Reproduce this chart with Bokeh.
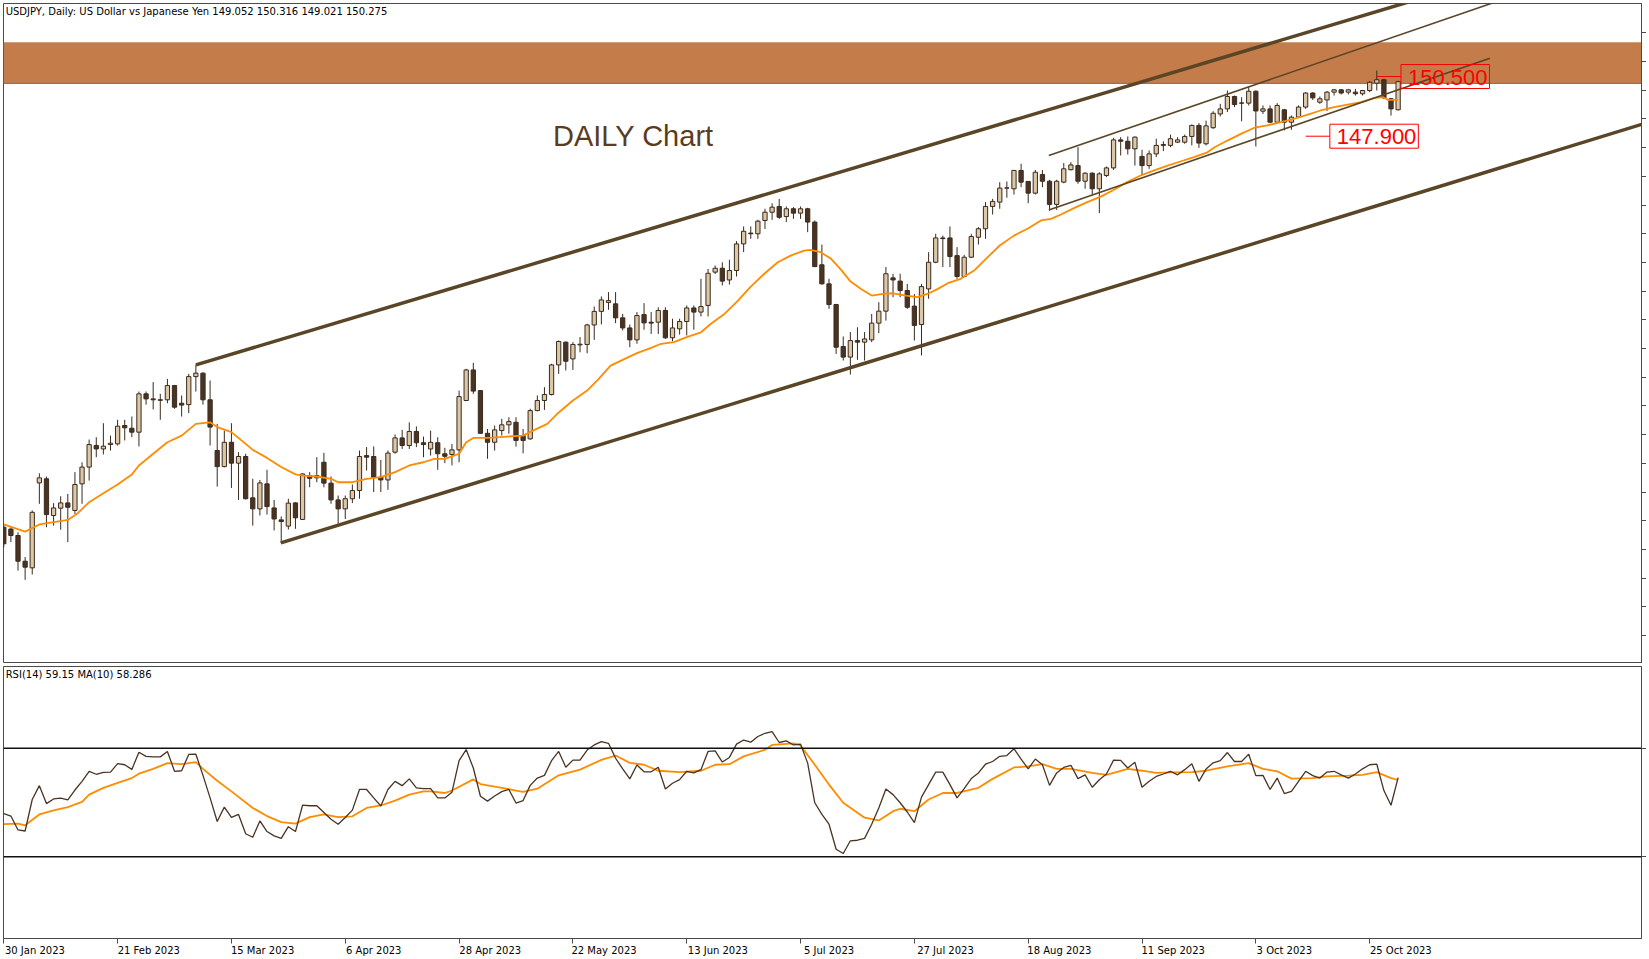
from bokeh.plotting import figure
from bokeh.models import Range1d, FixedTicker, BoxAnnotation, Span, Label, ColumnDataSource, LinearAxis
from bokeh.layouts import column
from bokeh.embed import file_html
from bokeh.resources import INLINE

# ---------------- data ----------------
opens = [130.87,130.79,130.51,129.39,129.10,132.80,132.98,131.38,131.70,131.93,
         131.60,132.76,133.49,134.43,134.28,134.47,134.50,135.30,135.18,135.01,
         136.68,136.46,136.42,136.42,137.04,136.27,136.21,137.43,137.58,136.42,
         134.21,133.51,134.57,133.66,133.95,132.15,131.67,132.76,131.71,131.19,
         130.92,131.93,131.21,133.12,133.02,133.70,132.79,132.06,131.67,132.11,
         132.47,133.99,133.95,133.05,132.93,134.14,134.76,134.43,135.04,134.55,
         134.28,134.55,134.07,134.04,134.24,136.39,137.72,136.82,134.96,134.57,
         135.08,135.33,135.44,134.86,134.72,135.95,136.39,136.65,137.94,138.93,
         138.20,138.81,138.83,139.68,140.27,140.66,140.60,139.99,139.55,139.03,
         140.13,139.80,139.80,140.31,139.12,139.51,139.83,140.42,140.24,140.53,
         141.98,142.15,141.64,142.05,143.21,143.68,143.65,144.23,144.59,144.84,
         144.40,144.74,144.55,144.74,144.16,142.30,141.47,140.57,138.74,138.28,
         139.00,138.93,139.03,139.76,140.28,141.73,141.59,141.18,140.50,139.70,
         141.25,142.41,143.47,143.47,142.70,141.79,142.63,143.50,143.87,144.84,
         145.03,145.64,145.61,146.41,145.93,145.42,146.23,145.94,144.93,145.90,
         146.44,146.62,145.94,146.29,145.61,146.19,146.52,147.74,147.68,147.35,
         147.02,146.62,147.13,147.50,147.50,147.64,147.64,147.89,148.37,147.57,
         148.27,148.87,149.09,149.63,149.35,149.34,149.86,148.99,149.09,148.51,
         149.05,148.51,148.73,149.17,149.78,149.38,149.48,149.82,149.92,149.82,
         149.82,149.75,149.89,150.21,150.36,149.53,149.052]
highs = [131.00,130.87,130.65,129.57,131.60,133.22,133.08,131.92,132.22,132.32,
         133.27,133.70,134.69,134.79,135.40,134.86,135.55,135.55,135.69,136.78,
         136.78,137.19,136.68,137.33,137.07,136.61,137.55,137.94,137.62,137.26,
         135.37,135.08,135.40,134.14,134.07,132.98,132.93,133.37,132.06,131.34,
         132.11,131.96,133.22,133.27,133.92,134.11,133.08,132.25,132.25,132.73,
         134.21,134.36,134.39,133.80,134.21,134.91,135.11,135.44,135.26,134.82,
         135.08,134.79,134.33,134.50,136.82,137.77,138.03,136.85,135.15,135.30,
         135.59,135.66,135.66,135.15,136.03,136.61,136.97,137.99,139.00,138.96,
         138.93,139.15,139.73,140.48,140.92,141.11,141.11,140.16,139.70,140.24,
         140.63,140.24,140.45,140.45,139.95,139.95,140.53,140.53,141.69,142.12,
         142.27,142.41,142.52,143.33,143.97,143.97,144.26,144.74,144.98,145.17,
         144.84,144.81,144.84,144.78,144.23,143.18,141.69,140.60,139.18,139.37,
         139.58,139.37,140.16,140.67,142.20,141.91,141.91,141.47,141.03,141.47,
         142.85,143.65,143.57,143.97,143.07,142.73,143.65,143.94,145.03,145.17,
         145.90,145.93,146.43,146.70,145.94,146.43,146.43,146.00,146.00,146.73,
         146.77,147.42,146.33,146.33,146.33,146.58,147.83,147.86,147.89,147.89,
         147.31,147.28,147.79,147.68,147.97,147.86,147.97,148.41,148.47,148.58,
         148.99,149.31,149.89,149.67,149.60,150.04,149.89,149.24,149.24,149.34,
         149.09,148.80,149.24,149.82,149.82,149.63,149.86,149.96,149.96,149.96,
         149.96,149.92,150.30,150.76,150.40,149.57,150.316]
lows = [130.00,130.22,128.98,128.58,128.81,131.89,130.87,130.94,130.76,130.22,
        131.45,131.89,132.90,133.92,134.04,134.21,134.43,134.65,134.79,134.39,
        136.21,136.00,135.55,136.27,136.03,135.69,135.84,136.78,136.21,134.43,
        132.64,133.48,132.58,132.06,132.08,130.94,131.38,131.42,130.73,130.19,
        130.77,130.80,131.19,132.61,132.83,132.61,131.89,131.02,131.23,131.92,
        132.11,133.34,132.40,132.40,132.50,134.07,134.28,134.28,134.36,133.92,
        133.99,133.37,133.66,133.56,133.70,136.36,136.68,134.94,133.85,134.21,
        134.86,134.94,134.38,134.09,134.68,135.92,135.98,136.61,137.55,137.70,
        137.72,138.49,138.45,139.03,139.70,140.34,139.76,139.44,138.71,138.86,
        139.47,139.29,139.29,139.07,138.97,139.26,139.22,139.47,140.05,140.05,
        141.90,141.40,141.44,141.79,142.85,143.43,143.43,143.86,144.26,144.30,
        144.16,144.30,144.30,143.72,142.20,141.44,140.38,138.42,138.13,137.52,
        138.16,138.13,138.93,139.32,139.87,140.89,140.89,140.38,139.00,138.35,
        140.82,142.37,142.20,142.20,141.69,141.76,142.60,143.18,143.43,144.49,
        144.74,145.22,145.36,145.68,144.98,145.36,145.68,144.66,144.69,145.85,
        146.41,145.83,145.61,145.36,144.55,146.12,146.43,147.06,147.10,146.62,
        146.19,146.48,146.99,147.25,147.42,147.60,147.57,147.50,147.39,147.50,
        148.22,148.76,148.95,149.17,148.55,149.24,147.45,148.87,148.47,148.47,
        148.15,148.18,148.70,149.09,149.48,149.31,149.00,149.67,149.72,149.72,
        149.67,149.67,149.82,149.89,149.53,148.80,149.021]
closes = [130.15,130.51,129.39,129.13,131.52,133.02,131.42,131.71,131.93,131.74,
          132.73,133.49,134.47,134.28,134.40,134.53,135.27,135.20,135.01,136.68,
          136.46,136.42,136.40,137.04,136.10,136.19,137.43,137.58,136.42,135.23,
          133.51,134.57,133.66,133.95,132.11,131.67,132.80,131.77,131.23,131.12,
          131.92,131.28,133.19,133.00,133.12,132.79,132.06,131.67,132.11,132.47,
          133.95,133.92,133.05,132.93,134.10,134.76,134.43,135.04,134.55,134.47,
          134.57,134.07,133.96,134.24,136.56,137.72,136.80,134.96,134.57,135.11,
          135.33,135.47,134.65,134.65,135.95,136.39,136.65,137.94,138.96,138.10,
          138.83,138.84,139.68,140.27,140.77,140.74,139.99,139.55,139.03,140.09,
          139.77,139.76,140.31,139.12,139.55,139.83,140.42,140.24,140.48,141.93,
          142.15,141.59,142.05,143.21,143.76,143.65,144.20,144.59,144.81,144.37,
          144.74,144.55,144.74,144.16,142.22,141.47,140.57,138.71,138.28,139.00,
          138.93,139.07,139.76,140.28,141.91,141.64,141.18,140.45,139.66,141.35,
          142.41,143.47,143.44,142.66,141.79,142.63,143.53,143.87,144.84,145.06,
          145.64,145.65,146.41,145.90,145.42,146.33,145.94,144.93,145.94,146.48,
          146.65,145.94,146.29,145.61,146.26,146.52,147.74,147.68,147.35,147.86,
          146.62,147.13,147.50,147.54,147.79,147.74,147.89,148.37,147.60,148.35,
          148.90,149.09,149.63,149.28,149.34,149.86,149.00,149.09,148.51,149.24,
          148.51,148.73,149.17,149.78,149.57,149.53,149.82,149.92,149.78,149.92,
          149.75,149.89,150.25,150.36,149.57,149.09,150.275]

# moving average on price (vertices)
ma_bars = [0,3,5,7,9,10.4,12,14,16,18,19,21,23,25,27,29,30,32,34,35,37,39,41,42,44,46,47,49,
           51,53,55,57,59,60.5,62,64,65,66,68,70.8,73,74.6,76.4,77.8,80,82,83.5,85.3,87,89,91,
           92.4,94.2,96,98,99.4,101.3,103,104.9,106.9,108.8,110.6,112.5,113.4,114.8,116.3,117.7,
           119,120.5,122,123.8,125,126.8,128.5,129.9,131.3,132.7,134.5,136.4,138.3,140,142,
           143.9,145.8,147.2,148.6,150.5,152.3,154.2,156,157.9,159.8,161.7,163.6,165.5,167.3,
           169.2,170.2,172,173.9,175.8,177.6,179.5,181.4,183.3,185.1,187,188.9,190.8,192.7,
           193.9,194.6,196]
ma_vals = [130.99,130.68,130.99,131.09,131.19,131.48,131.96,132.35,132.73,133.17,133.56,134.07,
           134.57,134.86,135.37,135.44,135.23,135.01,134.50,134.24,133.89,133.49,133.17,133.12,
           133.08,132.98,132.83,132.83,132.98,133.05,133.27,133.56,133.70,133.85,133.85,134.07,
           134.57,134.76,134.76,134.82,134.86,135.11,135.37,135.81,136.39,136.82,137.29,137.91,
           138.16,138.45,138.68,138.86,138.93,139.15,139.36,139.73,140.16,140.67,141.32,141.91,
           142.41,142.70,142.92,142.95,142.85,142.56,142.08,141.58,141.25,140.96,141.04,141.06,
           140.96,140.89,141.04,141.25,141.50,141.69,142.05,142.63,143.14,143.57,143.87,144.23,
           144.30,144.49,144.78,145.03,145.27,145.56,145.90,146.19,146.41,146.62,146.81,146.99,
           147.20,147.42,147.71,148.00,148.27,148.37,148.51,148.66,148.84,149.02,149.17,149.28,
           149.38,149.57,149.60,149.48,149.48]

rsi_vals = [45.9,45.0,39.9,39.5,51.1,56.2,49.6,51.3,51.6,51.0,
            54.6,57.8,61.5,60.4,61.1,61.2,64.3,63.9,62.2,68.5,
            67.0,66.8,66.8,68.8,61.5,61.7,67.7,67.8,60.0,51.7,
            43.0,48.3,44.5,45.6,38.5,37.2,43.2,39.3,37.7,36.8,
            41.1,39.3,49.0,48.8,48.8,46.3,43.8,42.0,44.5,47.2,
            54.8,54.8,51.7,48.7,54.8,57.8,56.2,58.7,55.4,55.1,
            55.1,51.7,51.7,53.8,65.4,69.5,62.7,52.3,50.5,52.4,
            54.0,54.8,49.8,50.7,56.3,59.0,60.0,65.4,68.8,63.0,
            65.6,65.6,69.3,71.2,72.4,71.8,66.3,62.4,58.7,63.8,
            61.3,61.3,63.0,55.0,57.1,58.4,61.5,60.9,62.1,68.8,
            69.0,64.9,66.6,71.5,73.0,72.2,74.3,75.5,76.1,72.1,
            72.7,71.2,71.5,64.5,49.9,45.6,42.0,32.8,31.2,35.9,
            36.1,36.8,42.0,48.0,55.0,52.9,49.9,46.5,42.6,52.0,
            56.6,61.2,61.2,56.6,51.7,55.1,58.8,60.9,64.1,65.1,
            67.0,67.3,69.8,66.0,62.4,66.0,63.9,56.3,60.9,62.9,
            63.7,58.8,60.2,55.6,58.4,60.5,65.6,65.5,62.7,64.8,
            55.6,57.8,59.6,60.5,61.5,60.2,62.1,64.3,57.8,62.3,
            64.6,65.4,68.4,65.1,65.1,67.8,59.9,60.0,54.8,59.0,
            53.3,54.1,57.8,61.5,59.9,59.0,61.2,61.5,60.2,59.0,
            60.5,62.4,63.9,64.1,54.4,49.0,59.15]
rsi_ma_bars = [0,2,3,5,7,9,11,12,14,16,18,19,21,23,25,27,28,30,32,35,37,39,41,43,45,47,49,51,53,
               55,57,59,60,62,63,66,67,70,72,73,75,78,81,84,86,88,90,92,95,98,100,102,104,107,108,
               111,112,114,116,118,121,123,125,126,128,130,132,134,137,139,142,144,146,148,150,
               153,155,158,160,162,164,167,169,172,175,177,179,181,184,186,189,191,193,195,196]
rsi_ma_vals = [42.0,42.2,41.6,45.6,47.1,48.3,50.2,52.9,55.4,57.2,59.0,60.6,62.4,64.5,64.1,64.9,
               62.4,58.0,54.1,48.0,45.0,42.8,42.2,44.6,45.6,44.6,44.9,48.0,48.9,50.7,52.9,54.1,
               54.1,53.5,54.4,58.5,56.8,55.4,54.4,53.9,55.1,60.0,62.1,65.7,67.3,64.6,63.9,61.7,
               61.2,61.7,63.9,64.1,67.0,69.4,71.2,71.8,71.0,63.9,56.6,49.9,44.4,43.4,46.8,47.7,
               46.8,51.1,53.5,53.5,55.4,58.7,62.9,63.3,64.1,62.4,62.4,60.9,60.2,62.4,61.7,60.9,
               61.1,61.2,61.7,63.3,64.5,62.4,61.5,58.8,59.0,59.6,59.9,60.2,61.2,59.0,58.286]

date_tick_bars = [0, 16, 32, 48, 64, 80, 96, 112, 128, 144, 160, 176, 192]
date_labels = ["30 Jan 2023", "21 Feb 2023", "15 Mar 2023", "6 Apr 2023", "28 Apr 2023",
               "22 May 2023", "13 Jun 2023", "5 Jul 2023", "27 Jul 2023", "18 Aug 2023",
               "11 Sep 2023", "3 Oct 2023", "25 Oct 2023"]
price_ticks = [126.15, 127.40, 128.65, 129.90, 131.15, 132.40, 133.65, 134.90, 136.15, 137.40,
               138.65, 139.90, 141.15, 142.40, 143.65, 144.90, 146.15, 147.40, 148.65, 149.90,
               151.15, 152.40]
rsi_levels = [70, 30]

# resistance zone and drawn trend lines (bar index, price)
zone_low, zone_high = 150.20, 151.99
channel_upper_bars, channel_upper_prices = [27.0, 200.0], [137.94, 153.98]
channel_lower_bars, channel_lower_prices = [38.94, 231.1], [130.19, 148.50]
inner_upper_bars, inner_upper_prices = [146.9, 210.0], [147.06, 153.78]
inner_lower_bars, inner_lower_prices = [146.9, 208.9], [144.69, 151.30]
level_hi, level_hi_text, level_hi_bars = 150.5, "150.500", [193.0, 196.4]
level_lo, level_lo_text, level_lo_bars = 147.9, "147.900", [183.0, 186.4]

header_text = "USDJPY, Daily:  US Dollar vs Japanese Yen  149.052 150.316 149.021 150.275"
rsi_text = "RSI(14) 59.15 MA(10) 58.286"

# ---------------- layout / styles ----------------
W = 1646
BAR_PX = 7.114
X_LO = -0.04
X_HI = X_LO + 1638 / BAR_PX
P_LO, P_HI = 124.935, 153.68
R_LO, R_HI = -0.09, 100.09
MT_FONT = "DejaVu Sans"
BORDER = "#4a4a4a"
UP_FILL, DN_FILL, EDGE = "#dcc7a6", "#4b3322", "#3a2a1d"
ORANGE = "#ff8c00"
TREND = "#5a4526"


def style_right_axis(ax, ticks):
    ax.ticker = FixedTicker(ticks=ticks)
    ax.major_tick_out = 5
    ax.major_tick_in = 0
    ax.minor_tick_out = 0
    ax.minor_tick_in = 0
    ax.major_label_text_font_size = "0px"
    ax.major_label_text_color = None
    ax.major_label_standoff = 0
    ax.axis_line_color = BORDER
    ax.major_tick_line_color = BORDER


common = dict(output_backend="svg", toolbar_location=None, min_border_left=3, min_border_right=0,
              min_border_bottom=0, background_fill_color="white",
              border_fill_color="white", outline_line_color=BORDER, outline_line_width=1)

p = figure(width=W, height=663, x_range=Range1d(X_LO, X_HI), y_range=Range1d(P_LO, P_HI),
           x_axis_location=None, y_axis_location="right", min_border_top=3, **common)
p.grid.visible = False
style_right_axis(p.yaxis[0], price_ticks)

p.add_layout(BoxAnnotation(bottom=zone_low, top=zone_high, fill_color="#c47c4a", fill_alpha=1.0,
                           line_color=None, level="underlay"))
p.add_layout(Span(location=zone_low, dimension="width", line_color="#8d6a52", line_width=1,
                  level="underlay"))

bars = list(range(len(closes)))
src = ColumnDataSource(dict(
    x=bars, h=highs, l=lows,
    top=[max(o, c) for o, c in zip(opens, closes)],
    bottom=[min(o, c) for o, c in zip(opens, closes)],
    fill=[UP_FILL if c >= o else DN_FILL for o, c in zip(opens, closes)],
))
p.segment(x0="x", y0="h", x1="x", y1="l", source=src, line_color=EDGE, line_width=1)
p.vbar(x="x", width=0.6, top="top", bottom="bottom", fill_color="fill", line_color=EDGE,
       line_width=1, source=src)

p.line(ma_bars, ma_vals, line_color=ORANGE, line_width=1.8)

p.line(channel_upper_bars, channel_upper_prices, line_color=TREND, line_width=3.5)
p.line(channel_lower_bars, channel_lower_prices, line_color=TREND, line_width=3.5)
p.line(inner_upper_bars, inner_upper_prices, line_color=TREND, line_width=1.6)
p.line(inner_lower_bars, inner_lower_prices, line_color=TREND, line_width=1.6)

p.line(level_hi_bars, [level_hi, level_hi], line_color="#ff0000", line_width=1)
p.line(level_lo_bars, [level_lo, level_lo], line_color="#ff0000", line_width=1)
for xb, yv, txt in [(level_hi_bars[1], level_hi, level_hi_text), (level_lo_bars[1], level_lo, level_lo_text)]:
    p.add_layout(Label(x=xb, y=yv, text=txt, text_color="#ff0000", text_font="Liberation Sans",
                       text_font_size="22px", text_align="left", text_baseline="middle",
                       border_line_color="#ff0000", border_line_width=1, background_fill_color=None,
                       padding=dict(left=7, right=2, top=5, bottom=4)))

p.add_layout(Label(x=77.2, y=147.93, text="DAILY Chart", text_color="#5c3b1e",
                   text_font="Liberation Sans", text_font_size="29px", text_baseline="middle",
                   text_align="left"))
p.add_layout(Label(x=X_LO + 0.3, y=P_HI - 0.12, text=header_text, text_color="#000000",
                   text_font=MT_FONT, text_font_size="10px", text_baseline="top", text_align="left"))

# ---------------- RSI pane ----------------
r = figure(width=W, height=293, x_range=p.x_range, y_range=Range1d(R_LO, R_HI),
           x_axis_location="below", y_axis_location="right", min_border_top=1, **common)
r.grid.visible = False
style_right_axis(r.yaxis[0], rsi_levels)

# tick marks on the date axis
xa = r.xaxis[0]
xa.ticker = FixedTicker(ticks=date_tick_bars)
xa.major_label_text_font_size = "0px"
xa.major_label_text_color = None
xa.major_label_standoff = 0
xa.major_tick_out = 5
xa.major_tick_in = 0
xa.minor_tick_out = 0
xa.minor_tick_in = 0
xa.axis_line_color = BORDER
xa.major_tick_line_color = BORDER

# date texts start just right of their tick (MT4 style)
label_pos = [b + (len(s) * 5.3 / 2 + 2) / BAR_PX for b, s in zip(date_tick_bars, date_labels)]
la = LinearAxis(ticker=FixedTicker(ticks=label_pos),
                major_label_overrides={lp: s for lp, s in zip(label_pos, date_labels)},
                major_label_text_font=MT_FONT, major_label_text_font_size="10px",
                major_label_text_color="#000000", major_label_standoff=1,
                major_tick_out=0, major_tick_in=0, minor_tick_out=0, minor_tick_in=0,
                axis_line_color=None, major_tick_line_color=None)
r.add_layout(la, "below")

for lv in rsi_levels:
    r.add_layout(Span(location=lv, dimension="width", line_color="#111111", line_width=1.5))

r.line(rsi_ma_bars, rsi_ma_vals, line_color=ORANGE, line_width=1.8)
r.line(bars, rsi_vals, line_color="#4b3322", line_width=1.3)
r.add_layout(Label(x=X_LO + 0.3, y=R_HI - 1.0, text=rsi_text, text_color="#000000",
                   text_font=MT_FONT, text_font_size="10px", text_baseline="top", text_align="left"))

layout = column(p, r, spacing=2)
open("out.html", "w").write(file_html(layout, INLINE))
